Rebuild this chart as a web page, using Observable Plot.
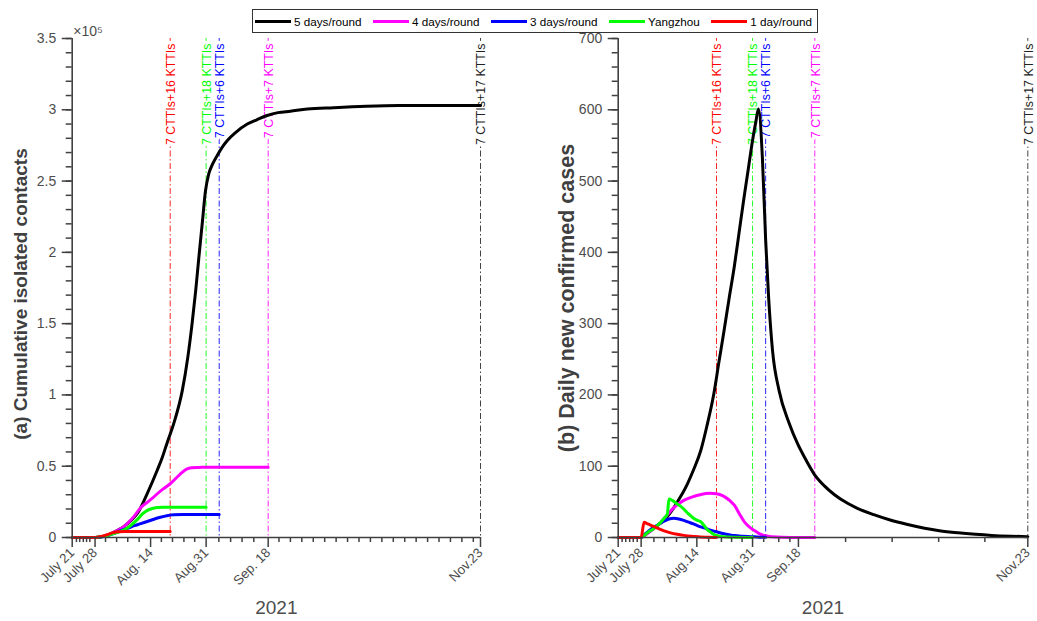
<!DOCTYPE html>
<html><head><meta charset="utf-8">
<script src="https://cdn.jsdelivr.net/npm/d3@7"></script>
<script src="https://cdn.jsdelivr.net/npm/@observablehq/plot@0.6"></script>
<style>
body{margin:0;background:#fff;font-family:"Liberation Sans",Arial,Helvetica,sans-serif;}
#wrap{position:relative;width:1037px;height:621px;overflow:hidden;background:#fff;}
#left,#right{position:absolute;top:0;}
#left{left:0}
#right{left:518px}
#legend{position:absolute;left:252px;top:9px;width:566px;height:24px;border:1px solid #333;box-sizing:border-box;display:flex;align-items:center;justify-content:space-between;padding:0 5px 0 2px;font-size:11.7px;color:#000;background:#fff;}
.item{display:flex;align-items:center;white-space:nowrap;}
.sw{width:36px;height:3px;margin-right:3px;}
</style></head><body>
<div id="wrap"><div id="left"></div><div id="right"></div><div id="legend"></div></div>
<script>
// ---------- series ----------
const seriesNames  = ["5 days/round", "4 days/round", "3 days/round", "Yangzhou", "1 day/round"];
const seriesColors = ["#000000", "#ff00ff", "#0000ff", "#00ff00", "#ff0000"];

// x: days since July 21, 2021
// Panel (a): cumulative isolated contacts
const aDays5 = [0,7,10,13,16,18,20,23,26,27.6,29,31.1,33.7,35.4,36.7,37.8,38.8,39.8,40.8,41.8,43,44.4,46,47.5,50,53.6,56.5,59.7,63,66.8,72,80,90,100,112,125];
const aVals5 = [0,0,1000,4000,8000,12000,17000,31000,47000,56300,66000,80000,103000,126500,150000,173000,197000,220000,243000,255000,262000,268000,274000,278500,284000,290000,293000,296000,298000,299000,300500,301500,302500,303000,303000,303000];
const aDays4 = [0,7,10,13,16,19,21,24,27,30,33,35,36.5,40,50,60];
const aVals4 = [0,0,1000,4000,8000,15000,21000,26500,32500,37700,44300,48000,49000,49300,49300,49300];
const aDays3 = [0,7,10,13,15,17,19,21,23,25,27,29,31,34,45];
const aVals3 = [0,0,800,3000,5000,6500,8300,9700,11200,12800,14200,15300,15900,16200,16200];
const aDaysYZ = [0,7,10,13,15,16.8,18.5,19.9,21.5,23,24.5,26,28,41];
const aValsYZ = [0,0,1000,3000,4500,6500,9500,12500,16500,19000,20300,21000,21300,21300];
const aDays1 = [0,7,9,11,12.5,14,16,30];
const aVals1 = [0,0,800,2200,3400,4100,4200,4200];

// Panel (b): daily new confirmed cases
const bDays5 = [0,7,8,10,12,13.9,17,19,21.1,23,25.2,27,29.2,30.7,32.3,33.8,35.4,36.9,38.4,39.7,41,42,42.8,44,45,45.9,47.1,49.1,52.2,54.7,56.8,59.8,63,66,70,73,78,83,88,93.5,98,103.7,109,114,120,125];
const bVals5 = [0,0,3,10,17,24,42,57,75,95,122,155,202,245,290,334,379,428,477,517,557,583,601,533,417,337,262,206,160,132,113,89,72,60,48,41,32,24.5,18.5,13,9.5,6.5,4.4,2.9,1.8,1.2];
const bDays4 = [0,7,9,11,13,15,17,20,23,25,28,30,32,34,35.5,37,38.5,40,41.5,43,44.5,47,50,55,60];
const bVals4 = [0,0,6,13,21,32,42,52,57.5,60,62,61.5,58.5,52,45,33,22,15,10,5.5,2.8,1,0.3,0,0];
const bDays3 = [0,7,8,9,10,11,12.5,14,15.5,17,18.5,20,21.5,23,24.5,26.2,27.7,29.2,30.7,32.3,34,35.4,38,40.5,43,45];
const bVals3 = [0,0,4,8,11.5,14.5,19,23,26,27,26,24,21.5,19,16,13.5,11,9,7,5.2,3.8,2.8,1.8,1.2,0.5,0.2];
const bDaysYZ = [0,7,8,9,10,11,12,13,14,15,15.5,16.5,18,19,20,21,22,23,24.2,25.2,26.2,27.2,28.2,29.3,30.3,32,35,41];
const bValsYZ = [0,0,3,7,10,13,17,21.5,27,33,54,52,47,44,40,35,31,27,24,22,17,11,7.5,4,2.5,1,0.3,0];
const bDays1 = [0,7,7.9,9,10.9,12.5,14,16,18,20,22.1,25,28,30];
const bVals1 = [0,0,21.5,19,15.5,12,9.3,6.5,4.5,3,1.7,0.8,0.2,0];

// strategy switch lines
const switchDays   = [30, 41, 45, 60, 125];
const switchLabels = ["7 CTTIs+16 KTTIs", "7 CTTIs+18 KTTIs", "7 CTTIs+6 KTTIs", "7 CTTIs+7 KTTIs", "7 CTTIs+17 KTTIs"];
const switchColors = ["#ff0000", "#00ff00", "#0000ff", "#ff00ff", "#222222"];

// axes
const aTickDays   = [0, 7, 24, 41, 60, 125];
const aTickLabels = ["July 21", "July 28", "Aug. 14", "Aug.31", "Sep. 18", "Nov.23"];
const aMinorDays  = [1.3,2.3,3.4,4.4,5.4,10.2,13.6,17,20.5,27.3,30.7,34.2,37.5,44.9,48.5,52,55.6,63.3,66.8,70.3,73.8,77.3,80.8,84.3,87.8,91.3,94.8,98.3,101.8,105.3,108.8,112.3,115.8,119.3,122.8];
const bTickDays   = [0, 7, 24, 41, 55, 125];
const bTickLabels = ["July 21", "July 28", "Aug.14", "Aug.31", "Sep.18", "Nov.23"];
const bMinorDays  = [1.2,2.3,3.5,4.6,5.8,10.9,14.1,17.8,21.1,27.6,31.5,34.6,37.8,44.4,49,52.4,69.4,83.6,97.8,111.9];
const aYTicks = [0,50000,100000,150000,200000,250000,300000,350000];
const bYTicks = [0,100,200,300,400,500,600,700];
const aTitle = "(a) Cumulative isolated contacts";
const bTitle = "(b) Daily new confirmed cases";
const xTitle = "2021";
const aExponent = "×10⁵";

// ---------- drawing ----------
const FONT = '"Liberation Sans", Arial, Helvetica, sans-serif';
const AX = "#404040", TX = "#4d4d4d";
const zipPts = (d, v) => d.map((x, i) => ({x, y: v[i]}));

function panel(o) {
  const sw = switchDays.map((x, i) => ({x, label: switchLabels[i], color: switchColors[i]}));
  const lab = new Map(o.tickDays.map((d, i) => [d, o.tickLabels[i]]));
  const marks = [];
  sw.forEach(s => marks.push(Plot.ruleX([s.x], {stroke: s.color, strokeWidth: 1, strokeOpacity: 0.85, strokeDasharray: "6,2.5,1.5,2.5"})));
  sw.forEach(s => marks.push(Plot.text([s.label], {x: () => s.x, frameAnchor: "top", rotate: -90, textAnchor: "end", lineAnchor: "middle", dy: 5, dx: 0.8, fontSize: 12.4, fill: s.color, stroke: "white", strokeWidth: 6.5})));
  o.series.forEach((s, i) => marks.push(Plot.line(zipPts(s[0], s[1]), {x: "x", y: "y", stroke: seriesColors[i], strokeWidth: 3, curve: "monotone-x"})));
  marks.push(
    Plot.axisX({ticks: o.minorDays, tickSize: 5, tickFormat: () => "", stroke: AX, strokeWidth: 1.5}),
    Plot.axisX({ticks: o.tickDays, tickSize: 10, tickPadding: 3, tickRotate: -45, tickFormat: d => lab.get(d), fontSize: 13.3, fill: TX, stroke: AX, strokeWidth: 1.5, label: null}),
    Plot.axisY({ticks: o.yMinor, tickSize: 6, tickFormat: () => "", stroke: AX, strokeWidth: 1.5}),
    Plot.axisY({ticks: o.yTicks, tickSize: 10, tickPadding: 6, tickFormat: o.yFmt, fontSize: 14, fill: TX, stroke: AX, strokeWidth: 1.5, label: null}),
    Plot.ruleY([0], {stroke: AX, strokeWidth: 1.6}),
    Plot.ruleX([0], {stroke: AX, strokeWidth: 1.6}),
    Plot.text([xTitle], {frameAnchor: "bottom", textAnchor: "middle", lineAnchor: "middle", dy: 70, fontSize: 19, fill: TX}),
    Plot.text([o.title], {frameAnchor: "left", rotate: -90, textAnchor: "middle", lineAnchor: "middle", dx: -51, dy: o.titleDy, fontSize: o.titleSize, fontWeight: "bold", fill: AX})
  );
  if (o.exponent) marks.push(Plot.text([o.exponent], {frameAnchor: "top-left", textAnchor: "start", lineAnchor: "middle", dx: 1, dy: -7, fontSize: 14, fill: TX}));
  return Plot.plot({
    width: o.width, height: 621,
    marginLeft: o.marginLeft, marginRight: o.marginRight, marginTop: 38, marginBottom: 84,
    style: {fontFamily: FONT, background: "transparent", overflow: "visible"},
    x: {domain: [0, 125], label: null, axis: null},
    y: {domain: [0, o.yMax], label: null, axis: null},
    marks
  });
}

document.getElementById("left").append(panel({
  width: 518, marginLeft: 71.7, marginRight: 38,
  yMax: 350000, yTicks: aYTicks, yMinor: d3.range(0, 350001, 10000), yFmt: d => String(d / 1e5),
  title: aTitle, titleSize: 19, titleDy: 6, exponent: aExponent,
  tickDays: aTickDays, tickLabels: aTickLabels, minorDays: aMinorDays,
  series: [[aDays5, aVals5], [aDays4, aVals4], [aDays3, aVals3], [aDaysYZ, aValsYZ], [aDays1, aVals1]]
}));
document.getElementById("right").append(panel({
  width: 519, marginLeft: 99.7, marginRight: 9.7,
  yMax: 700, yTicks: bYTicks, yMinor: d3.range(0, 701, 20), yFmt: d => String(d),
  title: bTitle, titleSize: 21.5, titleDy: 10,
  tickDays: bTickDays, tickLabels: bTickLabels, minorDays: bMinorDays,
  series: [[bDays5, bVals5], [bDays4, bVals4], [bDays3, bVals3], [bDaysYZ, bValsYZ], [bDays1, bVals1]]
}));

const leg = d3.select("#legend");
seriesNames.forEach((n, i) => {
  const it = leg.append("div").attr("class", "item");
  it.append("div").attr("class", "sw").style("background", seriesColors[i]);
  it.append("span").text(n);
});
</script>
</body></html>
